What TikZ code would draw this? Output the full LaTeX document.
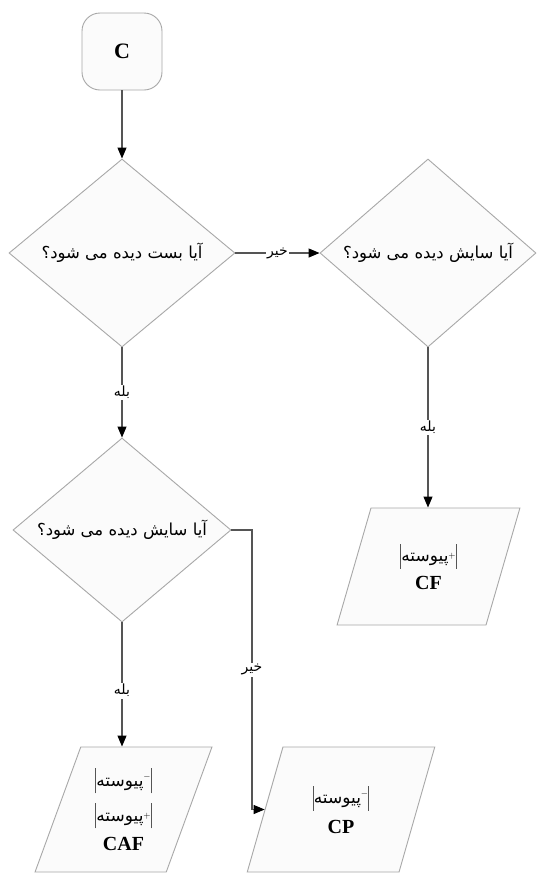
\documentclass[tikz,border=0pt]{standalone}
\usepackage{fontspec}
\setmainfont{Liberation Serif}
\newfontfamily\fa[Script=Arabic]{DejaVu Sans}
\TeXXeTstate=1
\usetikzlibrary{shapes.geometric,arrows.meta}
\definecolor{edgecol}{HTML}{A8A8A8}
\definecolor{conncol}{HTML}{555555}
\definecolor{shfill}{HTML}{FBFBFB}
\newcommand{\fatext}[1]{{\fa\beginR #1\endR}}
\newcommand{\vbarx}{{\color{conncol}\rule[-7pt]{0.9pt}{25pt}}}
\begin{document}
\begin{tikzpicture}[x=1pt,y=-1pt,
 shapebox/.style={draw=edgecol, line width=0.9pt, fill=shfill},
 decision/.style={shapebox, diamond, shape aspect=1.2, inner sep=0pt, font=\fa\fontsize{16.5}{19}\selectfont},
 io/.style={shapebox, trapezium, trapezium left angle=70, trapezium right angle=110, trapezium stretches=true, align=center, inner sep=0pt, font=\fontsize{17}{19}\selectfont},
 term/.style={shapebox, rounded corners=18pt, minimum width=80pt, minimum height=77pt, font=\fontsize{22}{24}\selectfont\bfseries},
 conn/.style={draw=conncol, line width=1.1pt, -{Triangle[length=11pt,width=9pt,color=black]}},
 lab/.style={fill=white, inner sep=1.5pt, font=\fa\fontsize{14}{16}\selectfont}
]
\fill[white] (0,0) rectangle (538,873);
\useasboundingbox (0,0) rectangle (538,873);

\node[term] (C) at (122,51.5) {C};
\node[decision, minimum width=226pt, minimum height=188pt] (d1) at (122,253) {\beginR آیا بست دیده می شود؟\endR};
\node[decision, minimum width=216pt, minimum height=188pt] (d2) at (428,253) {\beginR آیا سایش دیده می شود؟\endR};
\node[decision, minimum width=218pt, minimum height=184pt] (d3) at (122,530) {\beginR آیا سایش دیده می شود؟\endR};

\node[io, minimum width=183pt, minimum height=117pt] (CF) at (428.5,566.5)
 {\vbarx\fatext{پیوسته}\raisebox{3pt}{\small$+$}\vbarx\\[6pt]{\fontsize{20}{22}\selectfont\bfseries CF}};
\node[io, minimum width=177pt, minimum height=125pt] (CAF) at (123.5,809.5)
 {\vbarx\fatext{پیوسته}\raisebox{7pt}{\small$-$}\vbarx\\[9pt]\vbarx\fatext{پیوسته}\raisebox{3pt}{\small$+$}\vbarx\\[8pt]{\fontsize{20}{22}\selectfont\bfseries CAF}};
\node[io, minimum width=188pt, minimum height=125pt] (CP) at (341,809.5)
 {\vbarx\fatext{پیوسته}\raisebox{7pt}{\small$-$}\vbarx\\[8pt]{\fontsize{20}{22}\selectfont\bfseries CP}};

\coordinate (k) at (252,530);

\draw[conn] (C) -- (d1);
\draw[conn] (d1) -- node[lab]{\beginR خیر\endR} (d2);
\draw[conn] (d1) -- node[lab]{\beginR بله\endR} (d3);
\draw[conn] (d2.south) -- node[lab]{\beginR بله\endR} (d2.south |- CF.north);
\draw[conn] (d3.south) -- node[lab,pos=0.55]{\beginR بله\endR} (d3.south |- CAF.north);
\draw[conn] (d3.east) -- (k) |- node[lab,pos=0.25]{\beginR خیر\endR} (CP.west);
\end{tikzpicture}
\end{document}
